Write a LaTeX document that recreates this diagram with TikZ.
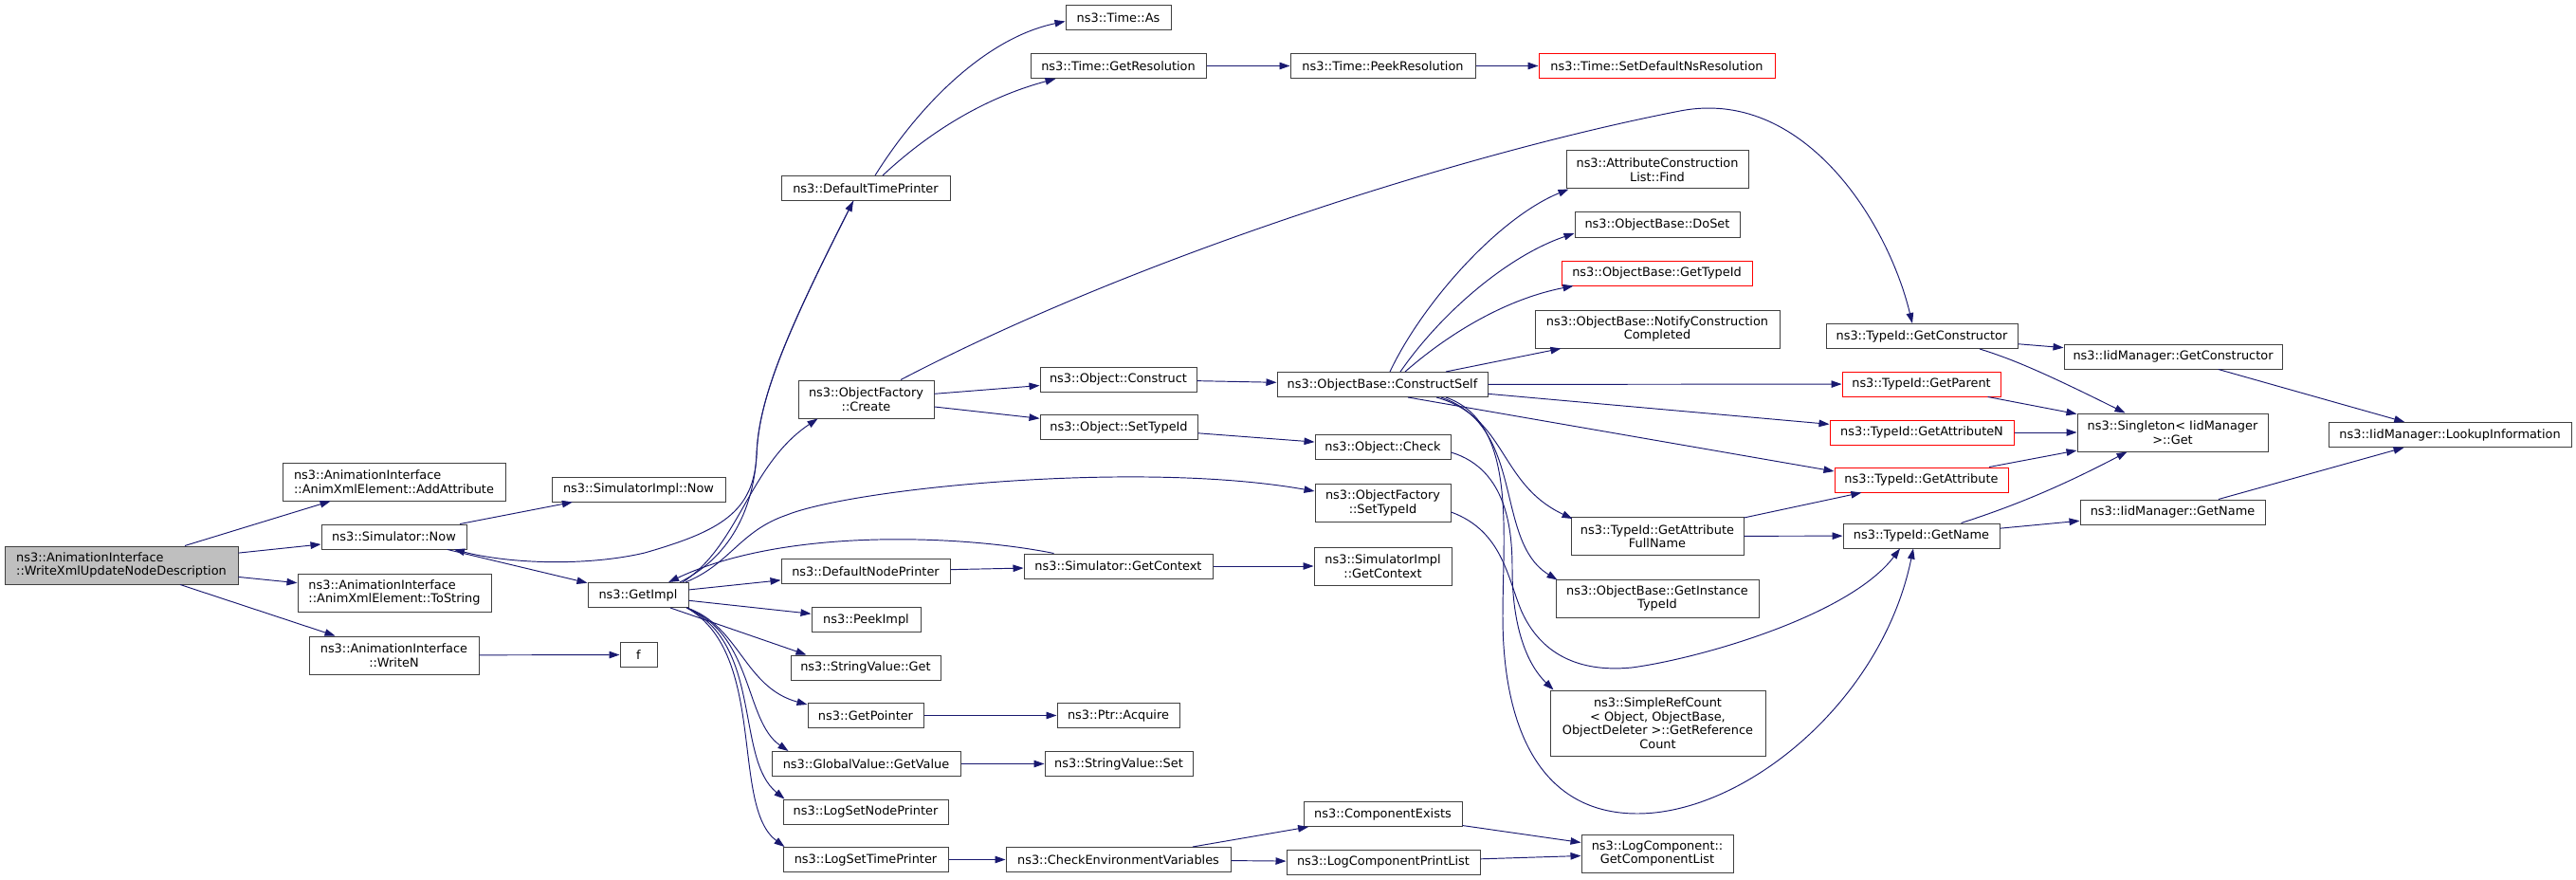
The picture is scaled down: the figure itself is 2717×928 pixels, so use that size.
\documentclass[tikz,border=0pt]{standalone}
\usepackage{fontspec}
\setmainfont{DejaVu Sans}
\usepackage{xcolor}
\usepackage{tikz}
\usetikzlibrary{shapes,arrows.meta,calc}

\definecolor{edgeblue}{HTML}{191970}
\definecolor{fnframe}{HTML}{404040}
\definecolor{rootgrey}{HTML}{BFBFBF}
\newcommand{\fnfont}{\fontsize{12.9}{14.5}\selectfont}

\begin{document}
\begin{tikzpicture}[x=1pt, y=-1pt, >={Triangle[length=11pt,width=7.5pt]}]
\tikzset{
fn/.style       = {draw=fnframe, line width=1pt, shape=rectangle, fill=white, inner sep=0pt, minimum height=26, align=center, font=\fnfont},
fn2/.style      = {fn, minimum height=40},
root/.style     = {fn2, fill=rootgrey, align=left},
cut/.style      = {fn, draw=red},
call/.style     = {->, draw=edgeblue, fill=none, line width=0.95pt},
}
    \useasboundingbox (0, 0) rectangle (2717, 928);

    % Caller nodes
    \node [root, minimum width=246]                 (write_desc)    at (128, 596)       {ns3::AnimationInterface\\::WriteXmlUpdateNodeDescription};
    \node [fn2, minimum width=235, align=left]      (add_attr)      at (415.5, 508)     {ns3::AnimationInterface\\::AnimXmlElement::AddAttribute};
    \node [fn, minimum width=153]                   (sim_now)       at (415.5, 566)     {ns3::Simulator::Now};
    \node [fn2, minimum width=204, align=left]      (to_string)     at (416, 625)       {ns3::AnimationInterface\\::AnimXmlElement::ToString};
    \node [fn2, minimum width=179]                  (write_n)       at (415.5, 691)     {ns3::AnimationInterface\\::WriteN};
    \node [fn, minimum width=183]                   (simimpl_now)   at (673.5, 516)     {ns3::SimulatorImpl::Now};
    \node [fn, minimum width=106]                   (get_impl)      at (673, 627.5)     {ns3::GetImpl};
    \node [fn, minimum width=39]                    (f_fn)          at (673.5, 690.5)   {f};

    % Caller edges
    \draw [call] (write_desc)   --      (add_attr);
    \draw [call] (write_desc)   --      (sim_now);
    \draw [call] (write_desc)   --      (to_string);
    \draw [call] (write_desc)   --      (write_n);
    \draw [call] (write_n)      --      (f_fn);
    \draw [call] (sim_now)      --      (simimpl_now);
    \draw [call] (sim_now)      --      (get_impl);

    % GetImpl nodes
    \node [fn, minimum width=178]                   (def_time)      at (913, 198.5)     {ns3::DefaultTimePrinter};
    \node [fn2, minimum width=143]                  (fac_create)    at (913.5, 421)     {ns3::ObjectFactory\\::Create};
    \node [fn, minimum width=178]                   (def_node)      at (913, 602.5)     {ns3::DefaultNodePrinter};
    \node [fn, minimum width=115]                   (peek_impl)     at (913.5, 653.5)   {ns3::PeekImpl};
    \node [fn, minimum width=158]                   (str_get)       at (913, 704)       {ns3::StringValue::Get};
    \node [fn, minimum width=122]                   (get_ptr)       at (913, 754.5)     {ns3::GetPointer};
    \node [fn, minimum width=199]                   (gv_get)        at (913.5, 805.5)   {ns3::GlobalValue::GetValue};
    \node [fn, minimum width=174]                   (log_node)      at (913, 856)       {ns3::LogSetNodePrinter};
    \node [fn, minimum width=174]                   (log_time)      at (913, 906.5)     {ns3::LogSetTimePrinter};

    % GetImpl edges
    \draw [call] ($(get_impl.north)+(44,0)$) .. controls (775,585) and (795,530) .. (798,480) .. controls (800,420) and (830,350) .. ($(def_time.south)+(-13,0)$);
    \draw [call] ($(def_time.south)+(-13,0)$) .. controls (830,350) and (800,420) .. (798,480) .. controls (795,540) and (760,560) .. (680,583) .. controls (620,597) and (540,595) .. ($(sim_now.south)+(63.5,0)$);
    \draw [call] ($(get_impl.north)+(47,0)$) .. controls (780,575) and (790,490) .. ($(fac_create.south)+(-51,0)$);
    \draw [call] (get_impl)     --      (def_node);
    \draw [call] (get_impl)     --      (peek_impl);
    \draw [call] ($(get_impl.south)+(34,0)$) -- ($(str_get.north west)+(17,0)$);
    \draw [call] ($(get_impl.south east)+(-2,0)$) .. controls (780,660) and (785,725) .. ($(get_ptr.north west)+(0,2)$);
    \draw [call] ($(get_impl.south east)+(-2,0)$) .. controls (795,670) and (785,760) .. ($(gv_get.north west)+(18,0)$);
    \draw [call] ($(get_impl.south east)+(-2,0)$) .. controls (805,680) and (775,800) .. ($(log_node.north west)+(2,0)$);
    \draw [call] ($(get_impl.south east)+(-2,0)$) .. controls (810,690) and (770,850) .. ($(log_time.north west)+(2,0)$);

    % Time nodes
    \node [fn, minimum width=111]                   (time_as)       at (1179.5, 18.5)   {ns3::Time::As};
    \node [fn, minimum width=185]                   (time_res)      at (1179.5, 69.5)   {ns3::Time::GetResolution};
    \node [fn, minimum width=195]                   (peek_res)      at (1458.5, 69.5)   {ns3::Time::PeekResolution};
    \node [cut, minimum width=249]                  (set_ns_res)    at (1747.5, 69.5)   {ns3::Time::SetDefaultNsResolution};

    % Time edges
    \draw [call] ($(def_time.north)+(10,0)$) .. controls (970,110) and (1040,40) .. ($(time_as.west)+(0,4)$);
    \draw [call] ($(def_time.north)+(18,0)$) .. controls (990,130) and (1050,100) .. ($(time_res.south)+(-66,0)$);
    \draw [call] (time_res)     --      (peek_res);
    \draw [call] (peek_res)     --      (set_ns_res);

    % Simulator, pointer and log nodes
    \node [fn, minimum width=199]                   (sim_ctx)       at (1179.5, 597)    {ns3::Simulator::GetContext};
    \node [fn2, minimum width=145]                  (simimpl_ctx)   at (1458.5, 597)    {ns3::SimulatorImpl\\::GetContext};
    \node [fn, minimum width=129]                   (ptr_acquire)   at (1179.5, 754.5)  {ns3::Ptr::Acquire};
    \node [fn, minimum width=156]                   (str_set)       at (1180, 805.5)    {ns3::StringValue::Set};
    \node [fn, minimum width=237]                   (check_env)     at (1179.5, 906.5)  {ns3::CheckEnvironmentVariables};
    \node [fn, minimum width=167]                   (comp_exists)   at (1458.5, 858.5)  {ns3::ComponentExists};
    \node [fn, minimum width=204]                   (comp_print)    at (1459, 909)      {ns3::LogComponentPrintList};
    \node [fn2, minimum width=160]                  (comp_list)     at (1748, 900)      {ns3::LogComponent::\\GetComponentList};

    % Simulator, pointer and log edges
    \draw [call] (def_node)     --      (sim_ctx);
    \draw [call] (sim_ctx)      --      (simimpl_ctx);
    \draw [call] ($(sim_ctx.north)+(-68,0)$) .. controls (1020,565) and (830,555) .. ($(get_impl.north)+(32,0)$);
    \draw [call] (get_ptr)      --      (ptr_acquire);
    \draw [call] (gv_get)       --      (str_set);
    \draw [call] (log_time)     --      (check_env);
    \draw [call] (check_env)    --      (comp_exists);
    \draw [call] (check_env)    --      (comp_print);
    \draw [call] (comp_exists)  --      (comp_list);
    \draw [call] (comp_print)   --      (comp_list);

    % Object nodes
    \node [fn, minimum width=165]                   (obj_construct) at (1179.5, 400)    {ns3::Object::Construct};
    \node [fn, minimum width=166]                   (obj_settid)    at (1180, 450.5)    {ns3::Object::SetTypeId};
    \node [fn, minimum width=222]                   (construct_self) at (1458, 405.5)   {ns3::ObjectBase::ConstructSelf};
    \node [fn, minimum width=143]                   (obj_check)     at (1458.5, 471.5)  {ns3::Object::Check};
    \node [fn2, minimum width=143]                  (fac_settid)    at (1458.5, 530.5)  {ns3::ObjectFactory\\::SetTypeId};
    \node [fn2, minimum width=192]                  (attr_find)     at (1748, 179)      {ns3::AttributeConstruction\\List::Find};
    \node [fn, minimum width=174]                   (ob_doset)      at (1748, 237)      {ns3::ObjectBase::DoSet};
    \node [cut, minimum width=201]                  (ob_gettid)     at (1747.5, 288)    {ns3::ObjectBase::GetTypeId};
    \node [fn2, minimum width=258]                  (ob_notify)     at (1748, 347)      {ns3::ObjectBase::NotifyConstruction\\Completed};
    \node [fn2, minimum width=182]                  (attr_fullname) at (1748, 565.5)    {ns3::TypeId::GetAttribute\\FullName};
    \node [fn2, minimum width=214]                  (ob_insttid)    at (1748, 631)      {ns3::ObjectBase::GetInstance\\TypeId};
    \node [fn, minimum width=227, minimum height=69] (ref_count)    at (1748.5, 762.5)  {ns3::SimpleRefCount\\< Object, ObjectBase,\\ObjectDeleter >::GetReference\\Count};

    % Object edges
    \draw [call] ($(get_impl.north)+(50,0)$) .. controls (770,595) and (780,560) .. (830,543) .. controls (900,515) and (1200,485) .. ($(fac_settid.west)+(0,-12.5)$);
    \draw [call] (fac_create)   --      (obj_construct);
    \draw [call] (fac_create)   --      (obj_settid);
    \draw [call] (obj_construct) --     (construct_self);
    \draw [call] (obj_settid)   --      (obj_check);
    \draw [call] ($(construct_self.north)+(8,0)$) .. controls (1500,320) and (1580,230) .. ($(attr_find.south west)+(3,0)$);
    \draw [call] ($(construct_self.north)+(19,0)$) .. controls (1520,330) and (1590,270) .. ($(ob_doset.west)+(0,9)$);
    \draw [call] ($(construct_self.north)+(24,0)$) .. controls (1530,350) and (1590,315) .. ($(ob_gettid.south west)+(13,0)$);
    \draw [call] (construct_self) --    (ob_notify);
    \draw [call] ($(construct_self.south)+(57,0)$) .. controls (1590,440) and (1580,510) .. ($(attr_fullname.north west)+(2,2)$);
    \draw [call] ($(construct_self.south)+(62,0)$) .. controls (1610,450) and (1575,570) .. ($(ob_insttid.north west)+(2,1)$);
    \draw [call] ($(obj_check.east)+(0,5.5)$) .. controls (1590,495) and (1595,560) .. (1595,600) .. controls (1595,660) and (1610,700) .. ($(ref_count.north west)+(4,0)$);

    % TypeId nodes
    \node [fn, minimum width=202]                   (tid_ctor)      at (2027, 354.5)    {ns3::TypeId::GetConstructor};
    \node [cut, minimum width=167]                  (tid_parent)    at (2026.5, 405)    {ns3::TypeId::GetParent};
    \node [cut, minimum width=194]                  (tid_attrn)     at (2027, 456)      {ns3::TypeId::GetAttributeN};
    \node [cut, minimum width=183]                  (tid_attr)      at (2026.5, 506)    {ns3::TypeId::GetAttribute};
    \node [fn, minimum width=165]                   (tid_name)      at (2026.5, 565)    {ns3::TypeId::GetName};

    % TypeId edges
    \draw [call] ($(fac_create.north)+(36.5,0)$) .. controls (1200,270) and (1550,160) .. (1772,117) .. controls (1900,92) and (1990,230) .. ($(tid_ctor.north)+(-10,0)$);
    \draw [call] (construct_self) --    (tid_parent);
    \draw [call] (construct_self) --    (tid_attrn);
    \draw [call] ($(construct_self.south)+(27,0)$) -- ($(tid_attr.west)+(0,-9)$);
    \draw [call] ($(construct_self.south)+(67,0)$) .. controls (1600,445) and (1585,560) .. (1585,650) .. controls (1585,760) and (1620,858) .. (1727,858) .. controls (1840,858) and (1985,740) .. ($(tid_name.south)+(-8.5,0)$);
    \draw [call] ($(fac_settid.east)+(0,9.5)$) .. controls (1585,560) and (1590,610) .. (1605,645) .. controls (1630,700) and (1680,708) .. (1721,704) .. controls (1790,695) and (1950,650) .. ($(tid_name.south)+(-22.5,0)$);
    \draw [call] (attr_fullname) --     (tid_attr);
    \draw [call] (attr_fullname) --     (tid_name);

    % IidManager nodes
    \node [fn, minimum width=230]                   (iid_ctor)      at (2292, 376)      {ns3::IidManager::GetConstructor};
    \node [fn2, minimum width=201]                  (singleton_get) at (2291.5, 456)    {ns3::Singleton< IidManager\\>::Get};
    \node [fn, minimum width=195]                   (iid_name)      at (2291.5, 540)    {ns3::IidManager::GetName};
    \node [fn, minimum width=256]                   (iid_lookup)    at (2584, 458.5)    {ns3::IidManager::LookupInformation};

    % IidManager edges
    \draw [call] (tid_ctor)     --      (iid_ctor);
    \draw [call] ($(tid_ctor.south)+(61,0)$) .. controls (2120,378) and (2150,390) .. ($(singleton_get.north)+(-50,0)$);
    \draw [call] (tid_parent)   --      (singleton_get);
    \draw [call] (tid_attrn)    --      (singleton_get);
    \draw [call] (tid_attr)     --      (singleton_get);
    \draw [call] ($(tid_name.north)+(42,0)$) .. controls (2120,535) and (2170,515) .. ($(singleton_get.south)+(-48,0)$);
    \draw [call] (tid_name)     --      (iid_name);
    \draw [call] (iid_ctor)     --      (iid_lookup);
    \draw [call] (iid_name)     --      (iid_lookup);

\end{tikzpicture}
\end{document}
